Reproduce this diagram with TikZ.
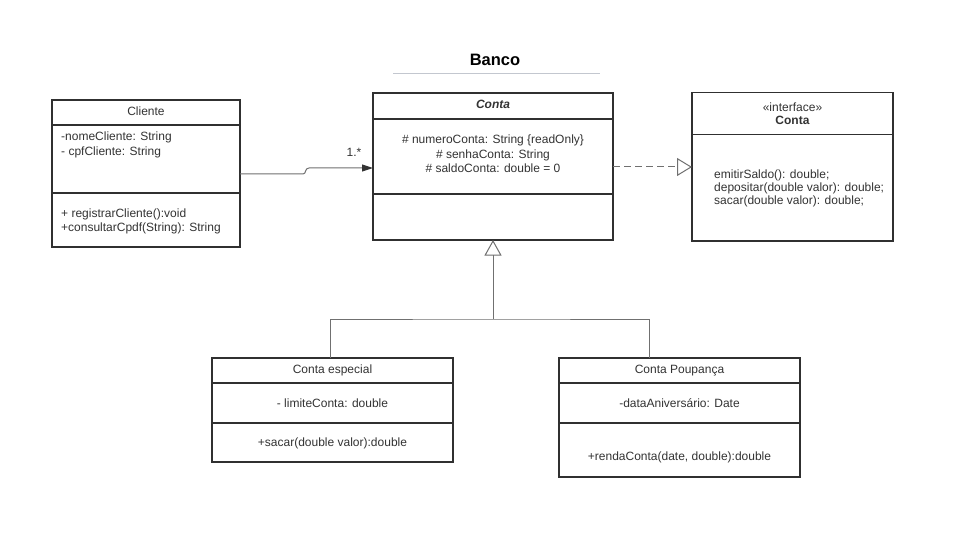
\documentclass[tikz,border=0pt]{standalone}
\usepackage{fontspec}
\setmainfont{Liberation Sans}
\usetikzlibrary{arrows.meta}
\definecolor{ink}{HTML}{333333}
\definecolor{edge}{HTML}{303030}
\definecolor{wire}{HTML}{707070}
\definecolor{rulec}{HTML}{C3C7CF}
\tikzset{
  comp/.style={draw=edge, line width=1.1pt, rectangle, inner sep=0pt, outer sep=0pt, anchor=north west},
  txt/.style={font=\fontsize{12}{14}\selectfont, text=ink, inner sep=0pt},
  wireline/.style={draw=wire, line width=1pt},
}
\begin{document}
\begin{tikzpicture}[x=1pt,y=-1pt]
\useasboundingbox[fill=white] (0,0) rectangle (960,540);

% title
\node[txt, font=\fontsize{16.5}{18}\selectfont\bfseries, text=black, anchor=base] (title) at (495,66) {Banco};
\draw[rulec, line width=1pt] (393,73.5) -- (600,73.5);

% Cliente
\node[comp, minimum width=188pt, minimum height=25pt] (cliT) at (52,100) {};
\node[comp, minimum width=188pt, minimum height=68pt] (cliA) at (52,125) {};
\node[comp, minimum width=188pt, minimum height=54pt] (cliM) at (52,193) {};
\node[txt, anchor=base] (cliName) at (146,116) {Cliente};
\node[txt, anchor=base west] (cliA1) at (61,140.5) {-nomeCliente: String};
\node[txt, anchor=base west] (cliA2) at (61,156) {- cpfCliente: String};
\node[txt, anchor=base west] (cliM1) at (61,217) {+ registrarCliente():void};
\node[txt, anchor=base west] (cliM2) at (61,231) {+consultarCpdf(String): String};

% Conta (abstract)
\node[comp, minimum width=240pt, minimum height=26pt] (conT) at (373,93) {};
\node[comp, minimum width=240pt, minimum height=75pt] (conA) at (373,119) {};
\node[comp, minimum width=240pt, minimum height=46pt] (conM) at (373,194) {};
\node[txt, anchor=base] (conName) at (493,108.5) {\textbf{\textit{Conta}}};
\node[txt, anchor=base] (conA1) at (493,144) {\# numeroConta: String \{readOnly\}};
\node[txt, anchor=base] (conA2) at (493,158.5) {\# senhaConta: String};
\node[txt, anchor=base] (conA3) at (493,173) {\# saldoConta: double = 0};

% Interface Conta
\node[comp, minimum width=201pt, minimum height=42pt] (ifT) at (692,92.5) {};
\node[comp, minimum width=201pt, minimum height=106.5pt] (ifB) at (692,134.5) {};
\node[txt, anchor=base] (ifSt) at (792.5,111.5) {«interface»};
\node[txt, anchor=base] (ifName) at (792.5,125) {\textbf{Conta}};
\node[txt, anchor=base west] (ifM1) at (714,178.5) {emitirSaldo(): double;};
\node[txt, anchor=base west] (ifM2) at (714,191.5) {depositar(double valor): double;};
\node[txt, anchor=base west] (ifM3) at (714,204.5) {sacar(double valor): double;};

% Conta especial
\node[comp, minimum width=241pt, minimum height=25pt] (ceT) at (212,358) {};
\node[comp, minimum width=241pt, minimum height=40pt] (ceA) at (212,383) {};
\node[comp, minimum width=241pt, minimum height=39pt] (ceM) at (212,423) {};
\node[txt, anchor=base] (ceName) at (332.5,373.5) {Conta especial};
\node[txt, anchor=base] (ceA1) at (332.5,407) {- limiteConta: double};
\node[txt, anchor=base] (ceM1) at (332.5,446) {+sacar(double valor):double};

% Conta Poupanca
\node[comp, minimum width=241pt, minimum height=25pt] (cpT) at (559,358) {};
\node[comp, minimum width=241pt, minimum height=40pt] (cpA) at (559,383) {};
\node[comp, minimum width=241pt, minimum height=54pt] (cpM) at (559,423) {};
\node[txt, anchor=base] (cpName) at (679.5,373.5) {Conta Poupança};
\node[txt, anchor=base] (cpA1) at (679.5,407) {-dataAniversário: Date};
\node[txt, anchor=base] (cpM1) at (679.5,460) {+rendaConta(date, double):double};

% association Cliente -> Conta
\draw[wireline, -{Triangle[length=11pt,width=7pt,fill=black!80,color=black!80]}]
  (cliA.east |- 0,174) -- (303,174) .. controls (306.5,174) and (304.5,168) .. (309,168) -- (conA.west |- 0,168);
\node[txt, anchor=base] (mult) at (354,156.5) {1.*};

% realization Conta -> interface
\draw[wireline, dash pattern=on 7pt off 4pt, -{Triangle[open,length=15pt,width=18pt]}]
  (conA.east |- 0,167) -- (ifB.west |- 0,167);

% generalization
\coordinate (join) at (493,319);
\draw[wireline, {Triangle[open,length=15.5pt,width=17pt]}-] (conM.south) -- (join);
\draw[wireline] ([xshift=-2.5pt]ceT.north) |- (join) -| ([xshift=-30.5pt]cpT.north);
\end{tikzpicture}
\end{document}
